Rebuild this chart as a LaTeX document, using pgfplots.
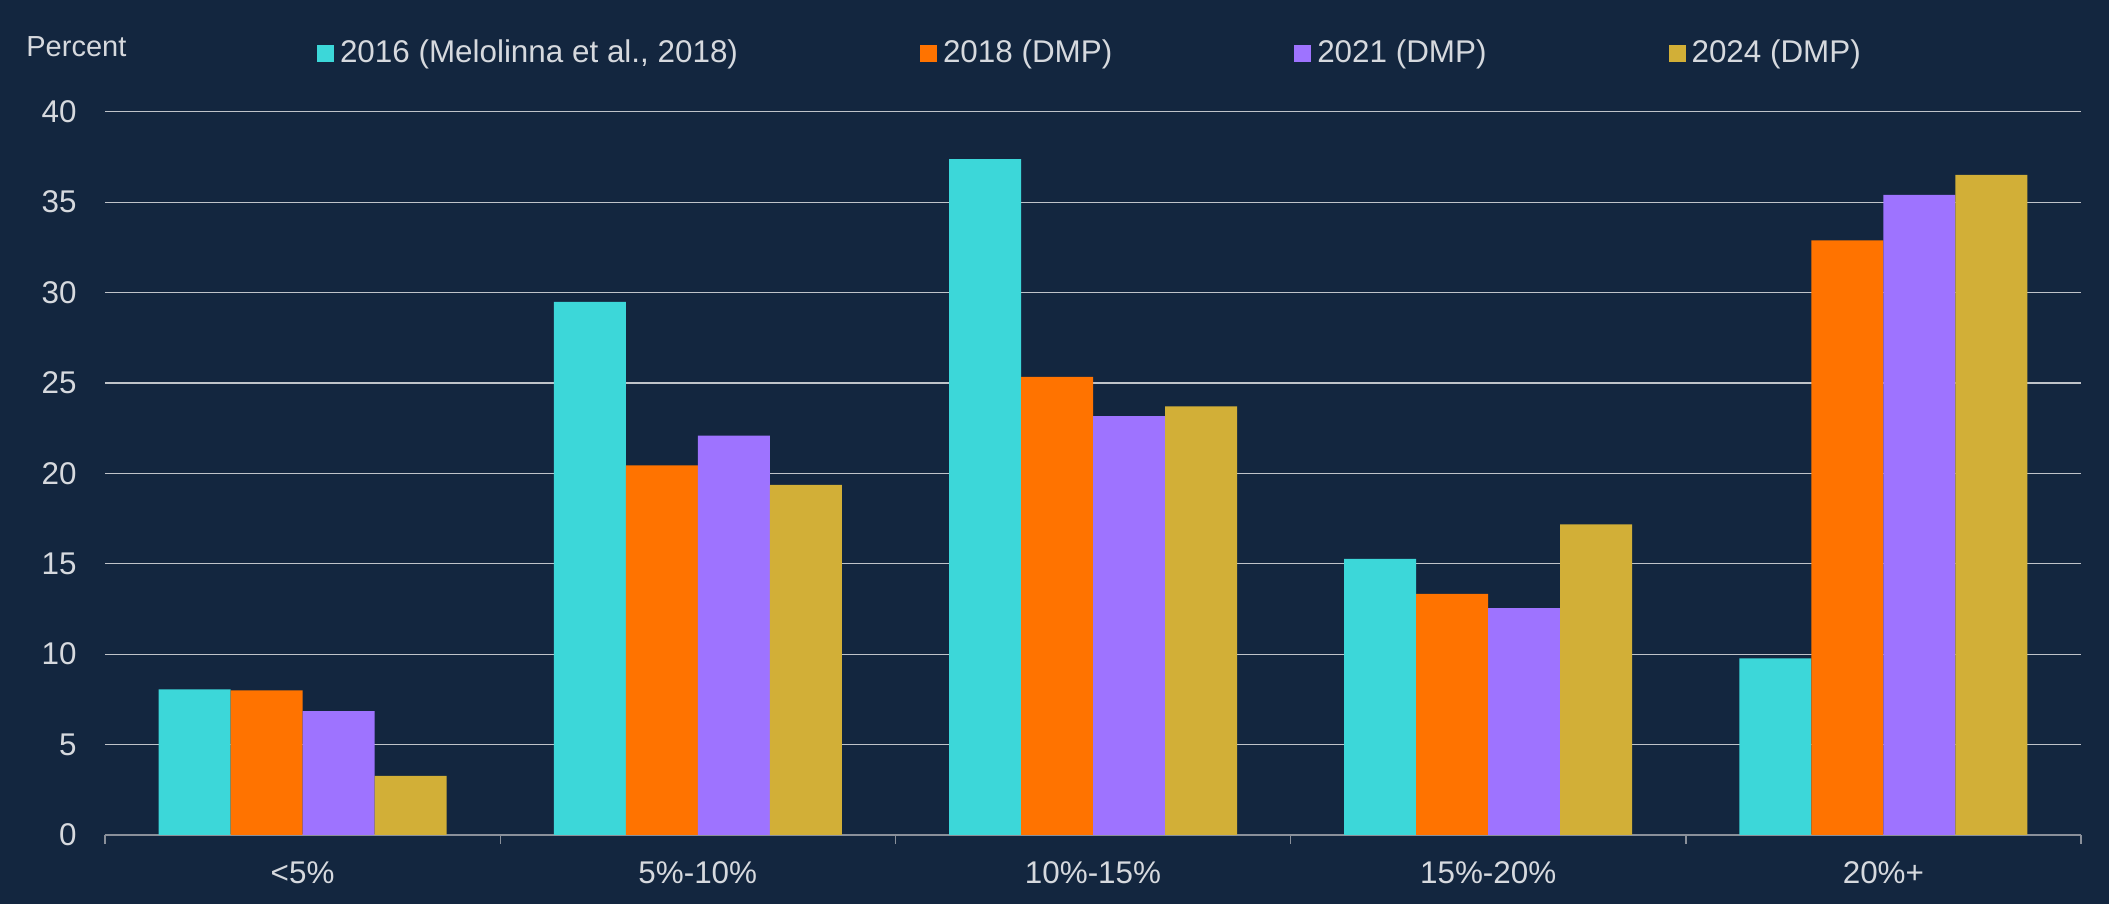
\documentclass[border=0pt]{standalone}
\usepackage{fontspec}
\setmainfont{Liberation Sans}
\usepackage{pgfplots}
\pgfplotsset{compat=1.18}
\definecolor{bg}{HTML}{13263F}
\definecolor{txt}{HTML}{D6D9DE}
\definecolor{gridc}{HTML}{BFC3C9}
\definecolor{axc}{HTML}{8A909A}
\definecolor{cA}{HTML}{3CD7D9}
\definecolor{cB}{HTML}{FF7300}
\definecolor{cC}{HTML}{9E73FF}
\definecolor{cD}{HTML}{D2AF37}
\pgfplotsset{sq legend/.style={legend image code/.code={\fill[##1] (0bp,-4.25bp) rectangle (8.5bp,4.25bp);}}}
\begin{document}
\fontsize{15.7bp}{18bp}\selectfont
\begin{tikzpicture}
\fill[bg] (-52.5bp,-34.5bp) rectangle (1002bp,417.5bp);
\begin{axis}[
  at={(0,0)}, anchor=south west,
  scale only axis, width=988bp, height=361.65bp,
  xmin=-0.5, xmax=4.5, ymin=0, ymax=40,
  ybar=0pt, bar width=36bp,
  axis x line*=bottom, axis y line*=left,
  y axis line style={draw=none},
  x axis line style={draw=axc, line width=0.7bp, -},
  xtick={0,1,2,3,4},
  xticklabels={<5\%, 5\%-10\%, 10\%-15\%, 15\%-20\%, 20\%+},
  minor xtick={-0.5,0.5,1.5,2.5,3.5,4.5},
  tick align=outside,
  major tick length=0pt,
  minor tick length=4.5bp,
  minor x tick style={draw=axc, line width=0.7bp},
  xtick style={draw=none},
  ytick={0,5,...,40},
  ytick style={draw=none},
  ymajorgrids,
  grid style={draw=gridc, line width=0.6bp},
  /pgf/number format/assume math mode=true,
  tick label style={font=\fontsize{15.7bp}{18bp}\selectfont, text=txt, inner sep=0pt},
  xticklabel style={anchor=north, yshift=-13bp},
  yticklabel style={anchor=east, xshift=-14bp},
  legend columns=4,
  legend style={at={(axis description cs:0.1073,1.0805)}, anchor=west,
    draw=none, fill=none, inner sep=0pt, outer sep=0pt,
    nodes={inner sep=0pt, text=txt}, column sep=3bp,
    /tikz/every even column/.append style={column sep=91bp},
    font=\fontsize{15.7bp}{18bp}\selectfont},
  legend cell align=left,
]
\addplot[fill=cA, draw=none, sq legend] coordinates {(0,8.05) (1,29.48) (2,37.38) (3,15.27) (4,9.77)};
\addlegendentry{2016 (Melolinna et al., 2018)}
\addplot[fill=cB, draw=none, sq legend] coordinates {(0,8.0) (1,20.44) (2,25.33) (3,13.33) (4,32.89)};
\addlegendentry{2018 (DMP)}
\addplot[fill=cC, draw=none, sq legend] coordinates {(0,6.85) (1,22.08) (2,23.16) (3,12.55) (4,35.4)};
\addlegendentry{2021 (DMP)}
\addplot[fill=cD, draw=none, sq legend] coordinates {(0,3.27) (1,19.36) (2,23.71) (3,17.18) (4,36.5)};
\addlegendentry{2024 (DMP)}
\end{axis}
\node[anchor=base west, inner sep=0pt, text=txt, font=\fontsize{14.5bp}{16bp}\selectfont] at (-39.5bp,389bp) {Percent};
\pgfresetboundingbox
\path (-52.5bp,-34.5bp) rectangle (1002bp,417.5bp);
\end{tikzpicture}
\end{document}
